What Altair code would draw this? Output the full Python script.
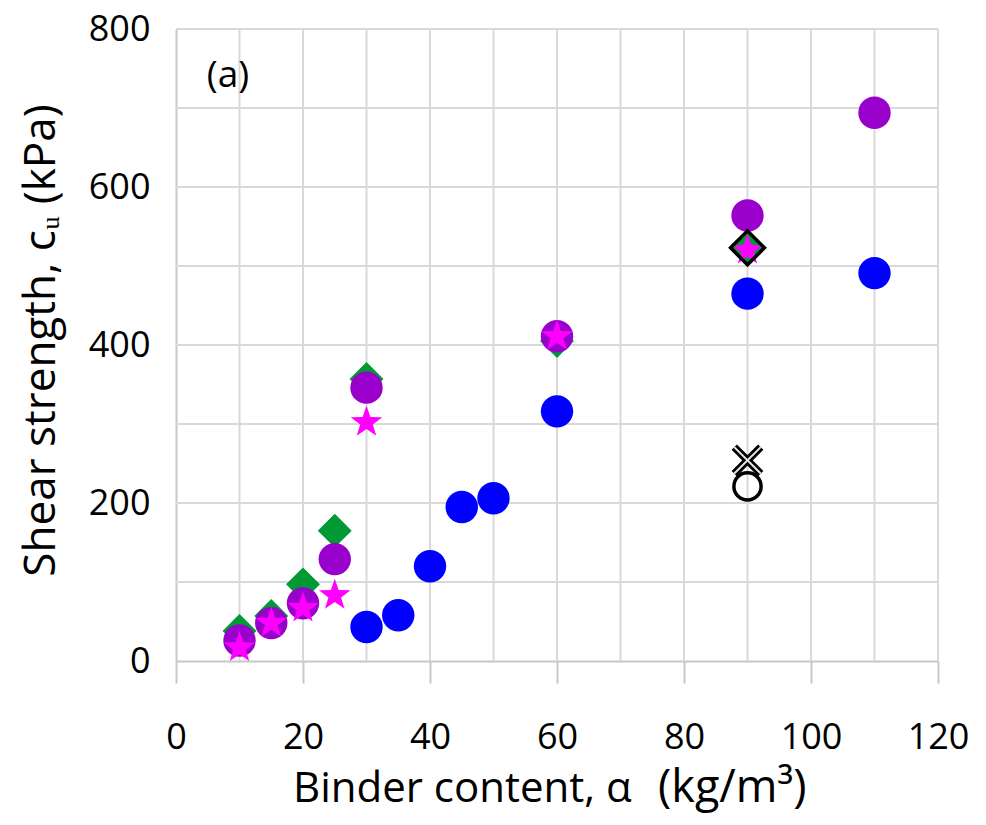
import altair as alt
import pandas as pd

# ---- data ----
blue_x = [30, 35, 40, 45, 50, 60, 90, 110]
blue_y = [43, 58, 120, 195, 206, 316, 465, 491]

purple_x = [10, 15, 20, 25, 30, 60, 90, 110]
purple_y = [26, 48, 73, 129, 346, 411, 564, 694]

green_x = [10, 15, 20, 25, 30, 60, 90]
green_y = [38, 57, 97, 165, 357, 405, 523]

star_x = [10, 15, 20, 25, 30, 60, 90]
star_y = [17, 48, 67, 83, 302, 411, 520]

outline_diamond_x = [90]
outline_diamond_y = [523]

cross_x = [90]
cross_y = [254]

open_circle_x = [90]
open_circle_y = [221]

grid_x = [10, 20, 30, 40, 50, 60, 70, 80, 90, 100, 110, 120]
grid_y = [100, 200, 300, 400, 500, 600, 700, 800]
x_ticks = [0, 20, 40, 60, 80, 100, 120]
y_ticks = [0, 200, 400, 600, 800]

x_title_main = "Binder content, α"
x_title_unit = "(kg/m³)"
y_title = "Shear strength, cᵤ (kPa)"
panel_label = "(a)"

FONT = "Open Sans"
STAR = ("M0,-1L0.235,-0.324L0.951,-0.309L0.380,0.124L0.588,0.809L0,0.4"
        "L-0.588,0.809L-0.380,0.124L-0.951,-0.309L-0.235,-0.324Z")
XPATH = "M-1,-1L1,1M-1,1L1,-1"

xs = alt.Scale(domain=[0, 120], nice=False, zero=False)
ys = alt.Scale(domain=[0, 800], nice=False, zero=False)


def df(x, y):
    return pd.DataFrame({"x": x, "y": y})


def pts(x, y):
    return alt.Chart(df(x, y)).encode(
        x=alt.X("x:Q", scale=xs), y=alt.Y("y:Q", scale=ys)
    )


vgrid = alt.Chart(pd.DataFrame({"x": grid_x})).mark_rule(
    color="#d9d9d9", strokeWidth=2
).encode(x=alt.X("x:Q", scale=xs))
hgrid = alt.Chart(pd.DataFrame({"y": grid_y})).mark_rule(
    color="#d9d9d9", strokeWidth=2
).encode(y=alt.Y("y:Q", scale=ys))

axes = alt.Chart(df([0], [0])).mark_point(opacity=0).encode(
    x=alt.X(
        "x:Q", scale=xs,
        axis=alt.Axis(
            values=x_ticks, grid=False, tickSize=22, tickWidth=2,
            tickColor="#c8c8c8", domainColor="#c8c8c8", domainWidth=2,
            labelFont=FONT, labelFontSize=36, labelColor="#000000",
            labelPadding=37, labelFlush=False, title="",
        ),
    ),
    y=alt.Y(
        "y:Q", scale=ys,
        axis=alt.Axis(
            values=y_ticks, grid=False, ticks=False,
            domainColor="#c8c8c8", domainWidth=2,
            labelFont=FONT, labelFontSize=36, labelColor="#000000",
            labelPadding=26, labelFlush=False,
            title=y_title, titleFont=FONT,
            titleFontSize=44, titleFontWeight="normal", titleColor="#000000",
            titleBaseline="alphabetic", titleAlign="center",
            titleX=-122, titleY=311, titleAngle=-90,
        ),
    ),
)

blue = pts(blue_x, blue_y).mark_point(
    shape="circle", filled=True, size=1050, color="#0000ff", opacity=1)
green = pts(green_x, green_y).mark_point(
    shape="diamond", filled=True, size=1150, color="#009933", opacity=1)
purple = pts(purple_x, purple_y).mark_point(
    shape="circle", filled=True, size=1050, color="#9900cc", opacity=1)
star = pts(star_x, star_y).mark_point(
    shape=STAR, filled=True, size=1100, color="#ff00ff", opacity=1)
outline_d = pts(outline_diamond_x, outline_diamond_y).mark_point(
    shape="diamond", filled=False, size=1150, color="#000000",
    strokeWidth=3.5, opacity=1)
cross_o = pts(cross_x, cross_y).mark_point(
    shape=XPATH, filled=False, size=700, color="#000000",
    strokeWidth=7.5, opacity=1)
cross_i = pts(cross_x, cross_y).mark_point(
    shape=XPATH, filled=False, size=700, color="#e6e6e6",
    strokeWidth=2, opacity=1)
ocirc = pts(open_circle_x, open_circle_y).mark_point(
    shape="circle", filled=False, size=740, color="#000000",
    strokeWidth=3.5, opacity=1)

label = alt.Chart(pd.DataFrame({"t": [panel_label]})).mark_text(
    font=FONT, fontSize=37, color="#000000", align="center", baseline="middle"
).encode(text="t:N", x=alt.value(52), y=alt.value(47))

xt_main = alt.Chart(pd.DataFrame({"t": [x_title_main]})).mark_text(
    font=FONT, fontSize=42, color="#000000", align="left",
    baseline="alphabetic"
).encode(text="t:N", x=alt.value(117), y=alt.value(773))
xt_unit = alt.Chart(pd.DataFrame({"t": [x_title_unit]})).mark_text(
    font=FONT, fontSize=45, color="#000000", align="left",
    baseline="alphabetic"
).encode(text="t:N", x=alt.value(482), y=alt.value(773))

chart = alt.layer(
    vgrid, hgrid, axes, blue, green, purple, star, outline_d,
    cross_o, cross_i, ocirc, label, xt_main, xt_unit
).properties(
    width=762, height=632,
    autosize=alt.AutoSizeParams(type="none"),
    padding={"left": 168, "top": 21, "right": 30, "bottom": 155},
    background="#ffffff",
).configure_view(stroke=None)

chart.save("out.html", embed_options={"renderer": "svg", "actions": False})
